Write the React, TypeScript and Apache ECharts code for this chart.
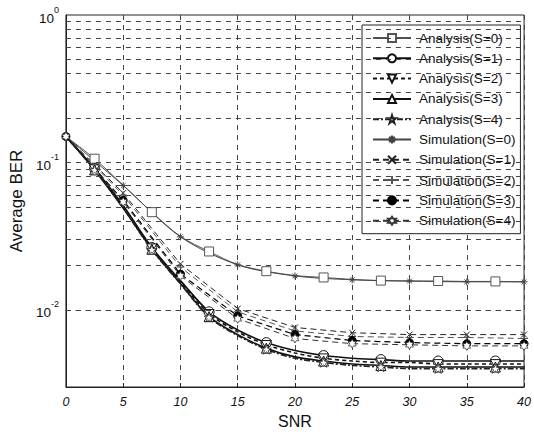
import React, { useEffect, useRef } from "react";
import * as echarts from "echarts";

const snrAna = [0, 2.5, 5, 7.5, 10, 12.5, 15, 17.5, 20, 22.5, 25, 27.5, 30, 32.5, 35, 37.5, 40];
const anaS0 = [0.15, 0.106, 0.07, 0.046, 0.0315, 0.0249, 0.0203, 0.0183, 0.0171, 0.0166, 0.0161, 0.0158, 0.0157, 0.0157, 0.0156, 0.0156, 0.0155];
const anaS1 = [0.15, 0.091, 0.051, 0.0265, 0.0158, 0.0097, 0.0073, 0.006, 0.0053, 0.0049, 0.0047, 0.0046, 0.0045, 0.0045, 0.0045, 0.0045, 0.0045];
const anaS2 = [0.15, 0.09, 0.05, 0.0262, 0.0155, 0.0094, 0.0071, 0.0058, 0.0051, 0.0047, 0.0045, 0.0044, 0.0044, 0.0043, 0.0043, 0.0043, 0.0043];
const anaS3 = [0.15, 0.089, 0.049, 0.0258, 0.0151, 0.009, 0.0068, 0.0055, 0.0048, 0.0045, 0.0043, 0.0042, 0.0041, 0.0041, 0.0041, 0.0041, 0.0041];
const anaS4 = [0.15, 0.089, 0.049, 0.0256, 0.015, 0.0089, 0.0067, 0.0054, 0.0047, 0.0044, 0.0042, 0.0041, 0.004, 0.004, 0.004, 0.004, 0.004];

const snrSim = [0, 5, 10, 15, 20, 25, 30, 35, 40];
const simS0 = [0.15, 0.0698, 0.0313, 0.0202, 0.017, 0.016, 0.0157, 0.0155, 0.0155];
const simS1 = [0.15, 0.062, 0.0205, 0.0102, 0.0076, 0.007, 0.0068, 0.0068, 0.0068];
const simS2 = [0.15, 0.06, 0.0195, 0.0097, 0.0072, 0.0066, 0.0065, 0.0065, 0.0064];
const simS3 = [0.15, 0.0553, 0.0175, 0.0091, 0.0068, 0.0062, 0.006, 0.0059, 0.0059];
const simS4 = [0.15, 0.054, 0.017, 0.0087, 0.0064, 0.0059, 0.0058, 0.0057, 0.0057];

const xTicks = [0, 5, 10, 15, 20, 25, 30, 35, 40];
const yMinorGrid = [
  0.004, 0.005, 0.006, 0.007, 0.008, 0.009, 0.01,
  0.02, 0.03, 0.04, 0.05, 0.06, 0.07, 0.08, 0.09, 0.1,
  0.2, 0.3, 0.4, 0.5, 0.6, 0.7, 0.8, 0.9,
];

const names = [
  "Analysis(S=0)", "Analysis(S=1)", "Analysis(S=2)", "Analysis(S=3)", "Analysis(S=4)",
  "Simulation(S=0)", "Simulation(S=1)", "Simulation(S=2)", "Simulation(S=3)", "Simulation(S=4)",
];

const SYM = {
  downTri: "path://M0,0L10,0L5,8.66Z",
  star5: "path://M5,0L6.18,3.62L10,3.62L6.91,5.86L8.09,9.51L5,7.24L1.91,9.51L3.09,5.86L0,3.62L3.82,3.62Z",
  asterisk: "path://M5,0L5,10M0,5L10,5M1.6,1.6L8.4,8.4M8.4,1.6L1.6,8.4",
  cross: "path://M0,0L10,10M10,0L0,10",
  plus: "path://M5,0L5,10M0,5L10,5",
  hexagram: "path://M5,0L6.44,2.5L9.33,2.5L7.89,5L9.33,7.5L6.44,7.5L5,10L3.56,7.5L0.67,7.5L2.11,5L0.67,2.5L3.56,2.5Z",
};

const FONT = "'Liberation Sans', Arial, sans-serif";

function anaData(vals: number[]) {
  return snrAna.map((x, i) =>
    i % 2 === 1 ? { value: [x, vals[i]] } : { value: [x, vals[i]], symbol: "none" }
  );
}
function simData(vals: number[]) {
  return snrSim.map((x, i) => [x, vals[i]]);
}

export default function App() {
  const ref = useRef<HTMLDivElement>(null);
  useEffect(() => {
    if (!ref.current) return;
    const chart = echarts.init(ref.current, undefined, { renderer: "svg" });

    const mk = (
      name: string,
      data: any[],
      symbol: string,
      size: number,
      lineType: any,
      width: number,
      color: string,
      fill: string,
      smooth: boolean | number,
      bw = 1
    ) => ({
      name,
      type: "line",
      data,
      symbol,
      symbolSize: size,
      symbolKeepAspect: true,
      showAllSymbol: true,
      smooth,
      z: 3,
      lineStyle: { color, width, type: lineType },
      itemStyle: { color: fill, borderColor: color, borderWidth: bw },
      emphasis: { disabled: true },
    });

    const option: any = {
      animation: false,
      backgroundColor: "#fff",
      grid: { left: 65, right: 5, top: 15, bottom: 46, show: true, borderColor: "#222", borderWidth: 1, backgroundColor: "transparent" },
      legend: {
        data: names,
        orient: "vertical",
        left: 362,
        top: 25,
        padding: [6, 5, 6, 10],
        itemGap: 6.3,
        itemWidth: 38,
        itemHeight: 10,
        backgroundColor: "#fff",
        borderColor: "#222",
        borderWidth: 1,
        borderRadius: 0,
        textStyle: { fontSize: 13.5, fontFamily: FONT, color: "#111", lineHeight: 14, padding: [0, 0, 0, 3] },
        selectedMode: false,
      },
      xAxis: {
        type: "value",
        min: 0,
        max: 40,
        interval: 5,
        name: "SNR",
        nameLocation: "middle",
        nameGap: 26,
        nameTextStyle: { fontSize: 16, fontFamily: FONT, color: "#111" },
        axisLine: { show: true, lineStyle: { color: "#222" } },
        axisTick: { show: true, inside: true, length: 4, lineStyle: { color: "#222" } },
        axisLabel: {
          fontSize: 12.5,
          fontStyle: "italic",
          fontFamily: FONT,
          color: "#111",
          margin: 8,
          formatter: (v: number) => (xTicks.indexOf(v) >= 0 ? String(v) : ""),
        },
        splitLine: { show: true, lineStyle: { color: "#444", type: [5, 5], width: 1 } },
      },
      yAxis: {
        type: "log",
        logBase: 10,
        min: 0.003,
        max: 1,
        splitNumber: 3,
        name: "Average BER",
        nameLocation: "middle",
        nameGap: 36,
        nameTextStyle: { fontSize: 17, fontFamily: FONT, color: "#111" },
        axisLine: { show: true, lineStyle: { color: "#222" } },
        axisTick: { show: false },
        splitLine: { show: false },
        axisLabel: {
          margin: 7,
          color: "#111",
          formatter: (v: number) => {
            const l = Math.log10(v);
            const e = Math.round(l);
            if (Math.abs(l - e) > 1e-6) return "";
            return "{b|10}{s|" + e + "}";
          },
          rich: {
            b: { fontSize: 13.5, fontFamily: FONT, color: "#111", lineHeight: 20, verticalAlign: "bottom" },
            s: { fontSize: 9, fontFamily: FONT, color: "#111", lineHeight: 9, verticalAlign: "top" },
          },
        },
      },
      series: [
        {
          name: "grid",
          type: "line",
          data: [],
          z: 1,
          silent: true,
          markLine: {
            silent: true,
            symbol: "none",
            label: { show: false },
            animation: false,
            lineStyle: { color: "#444", type: [5, 5], width: 1 },
            data: yMinorGrid.map((v) => ({ yAxis: v })),
          },
        },
        mk(names[0], anaData(anaS0), "rect", 9, "solid", 1, "#555", "#fff", 0.3),
        mk(names[1], anaData(anaS1), "circle", 10, "solid", 1.6, "#111", "#fff", 0.3),
        mk(names[2], anaData(anaS2), SYM.downTri, 10, [4, 3], 1.6, "#111", "#fff", 0.3),
        mk(names[3], anaData(anaS3), "triangle", 10, "solid", 1.6, "#111", "#fff", 0.3),
        mk(names[4], anaData(anaS4), SYM.star5, 10, [6, 2, 2, 2], 1.6, "#222", "#fff", 0.3, 0.8),
        mk(names[5], simData(simS0), SYM.asterisk, 7, "solid", 1, "#444", "transparent", 0.3),
        mk(names[6], simData(simS1), SYM.cross, 6, [6, 4], 1, "#222", "transparent", false),
        mk(names[7], simData(simS2), SYM.plus, 8, [6, 4], 1, "#555", "transparent", false),
        mk(names[8], simData(simS3), "circle", 8, [6, 4], 1.2, "#000", "#000", false),
        mk(names[9], simData(simS4), SYM.hexagram, 9, [6, 4], 1, "#333", "#fff", false, 0.8),
      ],
    };
    chart.setOption(option);
    return () => chart.dispose();
  }, []);
  return (
    <div
      ref={ref}
      style={{ position: "fixed", left: 0, top: 0, width: 534, height: 434, background: "#fff" }}
    />
  );
}
